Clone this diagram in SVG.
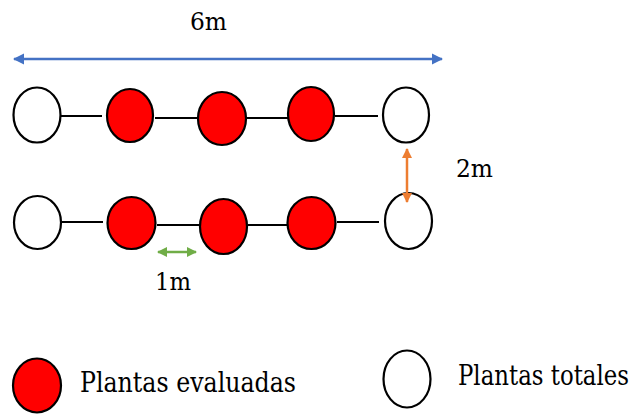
<svg xmlns="http://www.w3.org/2000/svg" width="635" height="415" viewBox="0 0 635 415">
<defs>
<style>
.ev{fill:#FF0000;stroke:#000;stroke-width:2.2}
.tot{fill:#fff;stroke:#000;stroke-width:2.2}
.link{stroke:#000;stroke-width:2}
.t{font-family:'DejaVu Serif','Liberation Serif',serif;fill:#000}
.lbl{font-size:24px}
.leg{font-size:27px}
</style>
<marker id="ab" viewBox="0 0 10 10" refX="9" refY="5" markerWidth="4.5" markerHeight="4.5" orient="auto-start-reverse" markerUnits="strokeWidth"><path d="M0,0 L10,5 L0,10 Z" fill="#4472C4"/></marker>
<marker id="ao" viewBox="0 0 10 10" refX="9" refY="5" markerWidth="4" markerHeight="4" orient="auto-start-reverse" markerUnits="strokeWidth"><path d="M0,0 L10,5 L0,10 Z" fill="#ED7D31"/></marker>
<marker id="ag" viewBox="0 0 10 10" refX="9" refY="5" markerWidth="4" markerHeight="4" orient="auto-start-reverse" markerUnits="strokeWidth"><path d="M0,0 L10,5 L0,10 Z" fill="#70AD47"/></marker>
</defs>
<g id="r1p1"><ellipse class="tot" cx="37" cy="115" rx="23.5" ry="27.5"/></g>
<g id="r1p2"><ellipse class="ev" cx="130" cy="115.5" rx="23" ry="26.5"/></g>
<g id="r1p3"><ellipse class="ev" cx="222" cy="118.5" rx="24" ry="26.5"/></g>
<g id="r1p4"><ellipse class="ev" cx="311" cy="114" rx="23" ry="27"/></g>
<g id="r1p5"><ellipse class="tot" cx="406" cy="115" rx="23" ry="27.5"/></g>
<g id="r2p1"><ellipse class="tot" cx="37.5" cy="222.5" rx="23.5" ry="26.5"/></g>
<g id="r2p2"><ellipse class="ev" cx="131.5" cy="223" rx="24" ry="26"/></g>
<g id="r2p3"><ellipse class="ev" cx="223.5" cy="226.5" rx="23.5" ry="27.5"/></g>
<g id="r2p4"><ellipse class="ev" cx="311.5" cy="223" rx="24" ry="26"/></g>
<g id="r2p5"><ellipse class="tot" cx="408.5" cy="221" rx="23.5" ry="28"/></g>
<g id="connectors">
<line class="link" x1="61" y1="116" x2="102" y2="116"/>
<line class="link" x1="155" y1="118" x2="198" y2="118"/>
<line class="link" x1="247" y1="118" x2="288" y2="118"/>
<line class="link" x1="335" y1="116" x2="378" y2="116"/>
<line class="link" x1="62" y1="222" x2="103" y2="222"/>
<line class="link" x1="157" y1="225" x2="200" y2="225"/>
<line class="link" x1="248" y1="225" x2="288" y2="225"/>
<line class="link" x1="337" y1="222" x2="379" y2="222"/>
<line id="dim-6m" x1="14" y1="59" x2="442" y2="59" stroke="#4472C4" stroke-width="2.5" marker-start="url(#ab)" marker-end="url(#ab)"/>
<line id="dim-2m" x1="407" y1="149" x2="407" y2="202" stroke="#ED7D31" stroke-width="2.5" marker-start="url(#ao)" marker-end="url(#ao)"/>
<line id="dim-1m" x1="158" y1="252" x2="196" y2="252" stroke="#70AD47" stroke-width="2.5" marker-start="url(#ag)" marker-end="url(#ag)"/>
</g>
<g id="labels">
<text class="t lbl" x="190" y="30" textLength="37" lengthAdjust="spacingAndGlyphs">6m</text>
<text class="t lbl" x="456" y="177" textLength="37" lengthAdjust="spacingAndGlyphs">2m</text>
<text class="t lbl" x="155" y="290" textLength="36" lengthAdjust="spacingAndGlyphs">1m</text>
</g>
<g id="legend-evaluadas">
<ellipse class="ev" cx="37" cy="385.5" rx="24" ry="27"/>
<text class="t leg" x="80" y="392" textLength="216" lengthAdjust="spacingAndGlyphs">Plantas evaluadas</text>
</g>
<g id="legend-totales">
<ellipse class="tot" cx="407" cy="379" rx="23.5" ry="28.5"/>
<text class="t leg" x="458" y="385" textLength="171" lengthAdjust="spacingAndGlyphs">Plantas totales</text>
</g>
</svg>
